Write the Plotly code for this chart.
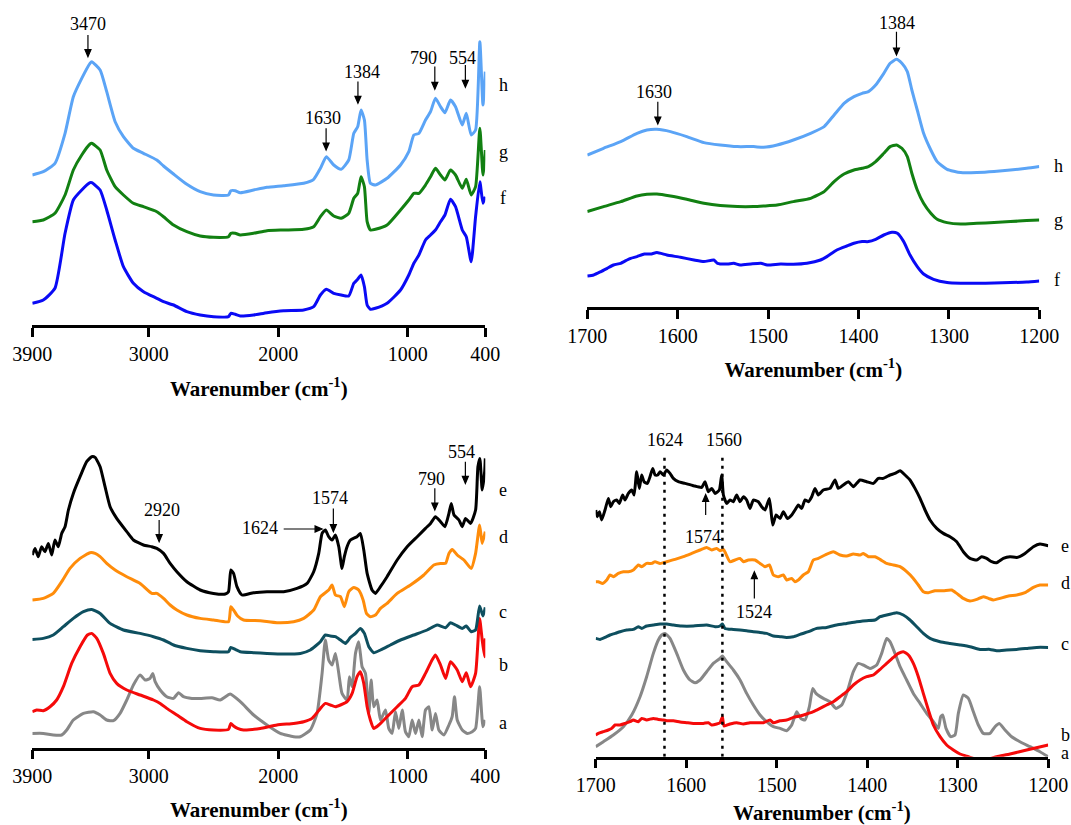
import plotly.graph_objects as go

# ---------------------------------------------------------------- data
# Top-left panel: full range spectra (wavenumber, cm-1) of samples f, g, h
TL_WN = [3900, 3815, 3725, 3647, 3583, 3518, 3454, 3441, 3376, 3325, 3260, 3196, 3119, 3041, 2938,
         2886, 2809, 2706, 2603, 2500, 2384, 2366, 2332, 2293, 2190, 2087, 1958, 1803, 1726, 1674,
         1628, 1571, 1514, 1455, 1416, 1386, 1360, 1334, 1313, 1288, 1249, 1159, 1055, 991, 952,
         913, 862, 823, 785, 746, 712, 669, 630, 578, 547, 509, 475, 442, 418, 400]
TL_H = [150, 153.3, 161.7, 191.7, 228.3, 246.7, 261.7, 263.3, 255, 233.3, 203.3, 188.3, 176.7, 171.7, 165,
        159, 151, 140.7, 133.3, 130, 130, 134.3, 134.3, 132.3, 135, 137.7, 139.3, 141.7, 145.7, 156.7,
        168.3, 160, 155.7, 165, 191.7, 198.3, 215, 205, 165, 141.7, 140, 146.7, 160, 173.3, 190,
        191.7, 205, 213.3, 226.7, 218.3, 212.3, 225, 218.3, 200, 211.7, 190, 195, 283.3, 220, 253.3]
TL_G = [103.3, 105, 111.7, 130, 155, 170, 181, 181.7, 175, 155, 138.3, 130, 121.7, 118.3, 113.3,
        108.3, 100, 93.3, 89, 87.7, 88.3, 91.7, 91.7, 90, 91.7, 94.3, 95, 95.7, 98.3, 108.3,
        115, 109, 106.7, 111.7, 126.7, 131.7, 148.3, 138.3, 103.3, 95, 95.7, 100, 115, 125, 131.7,
        131.7, 140, 148.3, 156.7, 150, 145, 155, 150, 136.7, 145.7, 130, 138.3, 196.7, 150, 175]
TL_F = [21.7, 25, 36.7, 91.7, 125, 135, 142.3, 142.3, 135, 115, 85, 58.3, 41.7, 33.3, 26.7,
        23.3, 20, 13.3, 10, 8.3, 8.3, 11.7, 10.7, 9, 10, 12.3, 14.3, 15, 18.3, 30,
        35.7, 31.7, 30, 29, 41.7, 45.7, 50, 38.3, 20, 15.7, 16.7, 21.7, 35, 50, 61.7,
        70, 85, 90, 95, 103.3, 110, 125.7, 118.3, 95, 88.3, 63.3, 108.3, 143.3, 121.7, 128.3]

# Top-right panel: 1700-1200 cm-1 detail of f, g, h
TR_WN = [1700, 1682, 1663, 1645, 1634, 1623, 1608, 1590, 1571, 1553, 1534, 1516, 1505, 1490, 1472,
         1453, 1438, 1427, 1416, 1405, 1396, 1389, 1381, 1372, 1365, 1358, 1352, 1346, 1341, 1335,
         1328, 1320, 1313, 1302, 1287, 1269, 1250, 1232, 1214, 1200]
TR_H = [152.3, 159, 165.7, 174, 177.3, 178, 175.7, 170.7, 164.7, 162.3, 160.7, 160.7, 160, 162.3, 167.3,
        174, 180.7, 192.3, 204, 210.7, 214, 215.7, 222.3, 234, 244, 248, 244, 235.7, 217.3, 197.3,
        174, 157.3, 145.7, 138, 134.7, 134.7, 135.7, 137.3, 139, 140.7]
TR_G = [95.7, 100.7, 105.7, 111.3, 113, 113.3, 111.3, 108, 104, 101.7, 100.7, 100.7, 101.3, 102.3, 105.7,
        109, 115.7, 125.7, 133.3, 137.3, 139, 140.7, 145.7, 154, 160.7, 162.3, 159, 150.7, 134, 117.3,
        104, 94, 88, 84.7, 83.3, 84, 84.7, 85.7, 86.7, 87.3]
TR_WN_F = [1700, 1693, 1685, 1678, 1671, 1663, 1656, 1652, 1645, 1637, 1630, 1623, 1612, 1597, 1582,
           1571, 1560, 1556, 1545, 1538, 1531, 1519, 1508, 1501, 1486, 1472, 1457, 1442, 1435, 1424,
           1413, 1405, 1396, 1389, 1381, 1372, 1363, 1357, 1350, 1343, 1335, 1328, 1317, 1302, 1287,
           1269, 1250, 1232, 1214, 1200]
TR_F = [31.3, 32.3, 35.7, 39, 42.3, 44, 47.3, 49, 50.7, 53.3, 53.3, 54.7, 52.3, 50, 47.3,
        45.7, 47.3, 44, 43.3, 44, 42.3, 43.3, 44, 42.3, 43.3, 43, 44, 47.3, 50.7, 57.3,
        61.3, 64, 65.7, 65.7, 68, 72.3, 75, 74, 65.7, 52.3, 40.7, 33.3, 28, 24.7, 24,
        24, 24.3, 24.7, 25.3, 26.3]

# Bottom-left panel: full range spectra of samples a-e
BL_WN_E = [3900, 3879, 3854, 3828, 3802, 3776, 3750, 3725, 3699, 3673, 3647, 3621, 3583, 3531, 3480,
           3441, 3415, 3376, 3338, 3299, 3248, 3170, 3119, 3041, 2977, 2938, 2886, 2835, 2783, 2706,
           2603, 2500, 2409, 2384, 2366, 2345, 2319, 2280, 2190, 2087, 1958, 1855, 1777, 1726, 1687,
           1661, 1636, 1610, 1584, 1558, 1532, 1507, 1489, 1468, 1442, 1391, 1365, 1339, 1313, 1275,
           1249, 1210, 1159, 1081, 1004, 926, 862, 823, 785, 746, 712, 681, 663, 642, 604,
           578, 553, 514, 475, 457, 442, 424, 405, 400]
BL_E = [192.7, 199.3, 191, 201, 196, 204.3, 192.7, 207.7, 201, 214.3, 221, 237.7, 254.3, 271, 286,
        291, 290.3, 281, 261, 241, 229.3, 216, 207.7, 202.7, 201, 199.3, 194.3, 184.3, 176, 166,
        157.7, 154.3, 153.7, 156, 177.7, 174.3, 161, 152.7, 155, 156, 156, 159.3, 164.3, 176, 194.3,
        214.3, 217.7, 211, 207.7, 212.7, 201, 179.3, 191, 201, 207.7, 211, 214.3, 197.7, 174.3, 157.7,
        154.3, 161, 171, 187.7, 201, 211, 219.3, 224.3, 231, 226, 221, 234.3, 244.3, 232.7, 227.7,
        221, 229.3, 224.3, 237.7, 281, 289.3, 257.7, 276, 289.3]
BL_WN_D = [3900, 3815, 3738, 3673, 3609, 3531, 3454, 3415, 3376, 3325, 3260, 3170, 3067, 2977, 2938,
           2886, 2835, 2783, 2706, 2603, 2500, 2384, 2366, 2345, 2314, 2268, 2139, 2010, 1881, 1803,
           1726, 1674, 1610, 1584, 1558, 1519, 1489, 1455, 1416, 1378, 1344, 1318, 1288, 1249, 1210,
           1159, 1081, 978, 875, 798, 746, 707, 681, 655, 617, 565, 509, 475, 444, 424, 400]
BL_D = [147.7, 149.3, 154.3, 166, 179.3, 189.3, 195, 194.3, 191, 184.3, 177.7, 171, 164.3, 154.3, 154.3,
        149.3, 142.7, 137.7, 132.7, 129.3, 127.7, 126, 141, 137.7, 131.7, 127.7, 127, 125, 126, 129.3,
        137.7, 151, 157.7, 162.7, 152.7, 151, 141, 156, 160.3, 157.7, 147.7, 134.3, 131, 132.7, 139.3,
        144.3, 154.3, 162.7, 172.7, 182.7, 184.3, 184.3, 194.3, 198.3, 192.7, 187.7, 179.3, 194.3, 222.7, 204.3,
        216]
BL_WN_C = [3900, 3815, 3738, 3660, 3583, 3505, 3441, 3376, 3299, 3196, 3067, 2964, 2886, 2809, 2706,
           2603, 2500, 2384, 2366, 2332, 2293, 2190, 2087, 1958, 1829, 1752, 1674, 1636, 1597, 1558,
           1519, 1481, 1442, 1403, 1365, 1334, 1300, 1262, 1210, 1133, 1055, 952, 849, 772, 707,
           669, 630, 578, 547, 509, 475, 444, 418, 400]
BL_C = [108.3, 109.3, 112.7, 121, 129.3, 136, 138.3, 134.3, 124.3, 117.7, 114.3, 111, 107.7, 102.7, 99.3,
        97, 96, 96, 100.3, 98.3, 96, 95, 94.3, 93.7, 94.3, 97.7, 106, 112.7, 111.7, 111,
        107.7, 104.3, 110.3, 114.3, 119.3, 114.3, 101, 95, 97.7, 102.7, 107.7, 112.7, 117.7, 122.7, 120,
        125, 122.7, 119.3, 121.7, 116, 117.7, 141.7, 131.7, 140.3]
BL_WN_B = [3900, 3866, 3815, 3763, 3712, 3660, 3596, 3531, 3474, 3441, 3402, 3351, 3299, 3248, 3170,
           3067, 2964, 2912, 2861, 2783, 2706, 2603, 2500, 2384, 2366, 2345, 2314, 2268, 2139, 2010,
           1881, 1803, 1739, 1674, 1636, 1597, 1558, 1519, 1468, 1429, 1391, 1365, 1339, 1313, 1288,
           1262, 1223, 1159, 1081, 1017, 965, 913, 862, 811, 785, 746, 707, 669, 617, 578,
           547, 514, 475, 444, 424, 405, 400]
BL_B = [36, 37.7, 37, 41, 47.7, 61, 84.3, 101, 112.7, 114.3, 109.3, 94.3, 74.3, 64.3, 57.7,
        52.7, 47.7, 44.3, 39.3, 32.7, 26, 19.3, 17.7, 18.3, 24.3, 21.7, 19.3, 17.7, 19.3, 22.7,
        24.3, 26, 29.3, 39.3, 44.3, 42.7, 41, 42.7, 46, 54.3, 71, 76, 64.3, 41, 27.7,
        19.3, 22.7, 31, 41, 49.3, 61, 62.7, 74.3, 87.7, 92.7, 82.7, 69.3, 86, 77.7, 66,
        75, 61, 74.3, 129.3, 107.7, 91, 109.3]
BL_WN_A = [3900, 3815, 3738, 3673, 3634, 3583, 3505, 3428, 3376, 3325, 3273, 3222, 3170, 3119, 3067,
           3028, 2990, 2969, 2951, 2912, 2861, 2809, 2770, 2732, 2667, 2603, 2512, 2448, 2371, 2293,
           2190, 2087, 1984, 1881, 1829, 1752, 1700, 1661, 1636, 1610, 1584, 1558, 1532, 1507, 1468,
           1450, 1429, 1403, 1378, 1352, 1326, 1300, 1282, 1262, 1236, 1210, 1171, 1146, 1120, 1094,
           1068, 1042, 1017, 991, 965, 939, 913, 888, 862, 836, 810, 785, 759, 720, 681,
           656, 638, 617, 578, 540, 501, 475, 444, 418, 400]
BL_A = [14.3, 14.3, 12.7, 12.7, 17.7, 27.7, 34.3, 36, 32.7, 27.7, 27, 34.3, 47.7, 62.7, 72.7,
        67.7, 69.3, 74.3, 66, 57.7, 51, 49.3, 55, 51, 49.3, 49.3, 50, 47.7, 53.7, 46,
        32.7, 22.7, 14.3, 11, 11, 17.7, 34.3, 74.3, 107.7, 87.7, 82.7, 94.3, 74.3, 54.3, 47.7,
        71, 61, 94.3, 106, 81, 74.3, 34.3, 67.7, 41, 47.7, 27.7, 37.7, 19.3, 14.3, 36,
        19.3, 37.7, 16, 11, 27.7, 14.3, 27.7, 11, 37.7, 41, 17.7, 34.3, 17.7, 12.7, 22.7,
        31, 51, 27.7, 17.7, 14.3, 16, 19.3, 61, 21, 27.7]

# Bottom-right panel: 1700-1200 cm-1 detail of a-e
BR_WN_E = [1700, 1698.2, 1695.9, 1693.4, 1689.7, 1686.0, 1683.4, 1680.5, 1676.8, 1673.9,
           1670.2, 1667.6, 1663.9, 1660.2, 1657.6, 1654.7, 1651.8, 1649.2, 1646.6, 1642.9,
           1640.0, 1637.0, 1634.4, 1631.5, 1628.9, 1625.2, 1621.6, 1617.9, 1614.2, 1608.7,
           1601.3, 1592.1, 1582.9, 1579.2, 1575.5, 1571.8, 1568.1, 1563.4, 1560.8, 1558.9,
           1555.3, 1551.6, 1547.9, 1544.2, 1540.5, 1536.8, 1533.2, 1529.5, 1525.8, 1520.3,
           1516.6, 1512.9, 1508.1, 1504.4, 1500.7, 1496.3, 1492.6, 1488.2, 1483.4, 1479.8,
           1476.1, 1472.4, 1468.7, 1465.0, 1461.3, 1457.7, 1454.0, 1448.5, 1441.1, 1435.6,
           1431.9, 1426.4, 1420.8, 1415.3, 1407.9, 1400.6, 1393.2, 1387.7, 1382.2, 1374.8,
           1369.3, 1363.7, 1358.2, 1352.7, 1347.2, 1341.6, 1336.1, 1330.6, 1323.2, 1315.9,
           1308.5, 1301.1, 1293.8, 1286.4, 1279.0, 1273.5, 1268.0, 1262.5, 1257.0, 1249.6,
           1242.2, 1234.8, 1225.6, 1216.4, 1209.1, 1200]
BR_E = [246.7, 240, 245, 236.7, 246.7, 258.3, 250, 255, 256.7, 253.3,
        261.7, 256.7, 263.3, 266.7, 261.7, 285, 268.3, 281.7, 275, 273.3,
        280, 288.3, 281.7, 281.7, 285, 281.7, 286.7, 283.3, 278.3, 275,
        273.3, 271, 269.3, 275, 265, 268.3, 263.3, 266.7, 281.7, 261.7,
        253.3, 256.7, 255, 261.7, 255, 260, 256.7, 248.3, 256.7, 255,
        250, 246.7, 258.3, 231.7, 241.7, 238.3, 245, 238.3, 241.7, 246.7,
        251.7, 248.3, 256.7, 255, 260, 268.3, 261.7, 266.7, 268.3, 276.7,
        268.3, 271.7, 275, 270, 276.7, 275, 273.3, 278.3, 278.3, 281.7,
        283.3, 286, 281.7, 276.7, 268.3, 258.3, 246.7, 236.7, 228.3, 223.3,
        220, 215, 205, 198.3, 196.7, 200, 198.3, 195, 194, 198.3,
        200, 199.3, 203.3, 210, 212.7, 211]
BR_WN_D = [1700, 1697.1, 1692.3, 1687.8, 1684.2, 1680.5, 1675.0, 1669.4, 1663.9, 1658.4,
           1652.9, 1649.2, 1643.7, 1638.1, 1634.4, 1628.9, 1621.6, 1612.3, 1603.1, 1593.9,
           1584.7, 1577.4, 1571.8, 1566.3, 1562.6, 1558.9, 1556.4, 1551.6, 1546.1, 1540.5,
           1536.8, 1531.3, 1524.0, 1518.4, 1512.9, 1508.1, 1503.7, 1498.2, 1492.6, 1489.0,
           1483.4, 1479.8, 1476.1, 1470.6, 1465.0, 1459.5, 1454.0, 1446.6, 1437.4, 1430.0,
           1422.7, 1415.3, 1407.9, 1404.3, 1398.7, 1391.4, 1385.8, 1378.5, 1371.1, 1363.7,
           1356.4, 1349.0, 1343.5, 1338.0, 1332.4, 1325.1, 1315.9, 1306.7, 1301.1, 1293.8,
           1286.4, 1279.0, 1271.7, 1266.1, 1260.6, 1253.3, 1244.0, 1234.8, 1225.6, 1216.4,
           1209.1, 1200]
BR_D = [175, 175, 173.3, 176.7, 181.7, 180, 183.3, 185, 185, 186.7,
        191.7, 190, 193.3, 193.3, 195, 193.3, 195, 197.3, 200, 203.3,
        206.7, 209.3, 206.7, 208.3, 206, 207.3, 203.3, 195, 196.7, 198.3,
        195, 196.7, 196.7, 193.3, 190, 191.7, 181.7, 180, 181.7, 176.7,
        178.3, 175, 176.7, 181.7, 185, 196.7, 198.3, 201.7, 205, 201.7,
        200.7, 202.7, 201.7, 203.3, 200, 200, 197.3, 193.3, 191.7, 190,
        185, 178.3, 171.7, 165, 164, 166, 166, 166.7, 163.3, 158.3,
        155.7, 157.3, 160, 158.3, 156.7, 158.3, 160.7, 161.7, 164, 169.3,
        171.7, 171.7]
BR_WN_C = [1700, 1695.2, 1689.7, 1684.2, 1678.6, 1673.1, 1665.7, 1658.4, 1652.9, 1649.2,
           1643.7, 1636.3, 1628.9, 1621.6, 1614.2, 1605.0, 1592.1, 1577.4, 1568.1, 1562.6,
           1560.0, 1557.1, 1547.9, 1540.5, 1533.2, 1525.8, 1518.4, 1511.1, 1503.7, 1496.3,
           1489.0, 1481.6, 1474.2, 1465.0, 1455.8, 1444.8, 1433.7, 1422.7, 1411.6, 1400.6,
           1391.4, 1385.8, 1378.5, 1371.1, 1367.4, 1360.1, 1352.7, 1345.3, 1338.0, 1330.6,
           1319.5, 1308.5, 1297.4, 1286.4, 1275.4, 1264.3, 1256.9, 1245.9, 1234.8, 1223.8,
           1212.7, 1200]
BR_C = [118.3, 117.3, 119.3, 121.7, 123.3, 125, 126.7, 127.3, 130, 128.3,
        130.7, 131.7, 132.7, 132.7, 131.7, 130.7, 130.7, 131.7, 130, 130.7,
        132.7, 128.3, 127.3, 126.7, 126, 125, 124.3, 123.3, 120.7, 120,
        119.3, 120, 122.3, 125, 128.3, 129.3, 131.7, 133.3, 135, 136,
        136.7, 140, 141.7, 143.3, 144, 141.7, 136.7, 130, 123.3, 118.3,
        115, 113.3, 111.7, 110, 107.3, 107.3, 106, 106.7, 107.3, 108.3,
        109.3, 109.3]
BR_WN_B = [1700, 1697.1, 1691.5, 1686.0, 1682.3, 1678.6, 1673.1, 1667.6, 1662.1, 1658.4,
           1652.9, 1649.2, 1643.7, 1636.3, 1630.8, 1625.2, 1621.6, 1614.2, 1606.8, 1599.5,
           1592.1, 1581.0, 1575.5, 1571.8, 1566.3, 1562.6, 1560.0, 1558.2, 1551.6, 1544.2,
           1536.8, 1529.5, 1522.1, 1514.7, 1507.4, 1503.7, 1496.3, 1489.0, 1481.6, 1474.2,
           1466.9, 1459.5, 1452.1, 1444.8, 1437.4, 1430.0, 1422.7, 1415.3, 1407.9, 1400.6,
           1393.2, 1385.8, 1378.5, 1371.1, 1365.6, 1360.1, 1354.5, 1349.0, 1343.5, 1338.0,
           1332.4, 1326.9, 1319.5, 1312.2, 1304.8, 1297.4, 1288.2, 1279.0, 1268.0, 1256.9,
           1242.2, 1223.8, 1200]
BR_B = [21.7, 23.3, 25, 26.7, 28.3, 31.7, 31.7, 33.3, 35, 36.7,
        35, 38.3, 36.7, 38.3, 37.3, 36.7, 36, 36, 34.7, 34,
        33.3, 33.3, 34, 31.7, 32.7, 34, 40, 30.7, 32.7, 34,
        32.7, 34, 34, 34, 36.7, 34, 36, 36.7, 39.3, 40.7,
        42.7, 45, 48.3, 51.7, 55, 60, 65, 71.7, 76.7, 80,
        81.7, 87.3, 93.3, 99.3, 103.3, 105, 101.7, 93.3, 80, 63.3,
        46.7, 31.7, 20, 11.7, 6.7, 2.7, 0, -2.7, -2.7, 0,
        2.7, 6.7, 11.7]
BR_WN_A = [1700, 1691.5, 1680.5, 1669.4, 1660.2, 1651.0, 1643.7, 1636.3, 1630.8, 1627.1,
           1623.4, 1617.9, 1610.5, 1603.1, 1595.8, 1590.2, 1584.7, 1577.4, 1570.0, 1562.6,
           1560.0, 1555.3, 1547.9, 1540.5, 1533.2, 1525.8, 1518.4, 1511.1, 1503.7, 1496.3,
           1489.0, 1483.4, 1477.9, 1473.5, 1468.7, 1463.9, 1460.2, 1456.6, 1448.5, 1441.1,
           1434.5, 1428.2, 1422.7, 1415.3, 1409.8, 1404.3, 1396.9, 1389.5, 1384.0, 1378.5,
           1374.8, 1369.3, 1363.7, 1356.4, 1349.0, 1341.6, 1334.3, 1326.9, 1321.4, 1318.8,
           1316.6, 1312.9, 1307.8, 1303.0, 1299.3, 1293.8, 1288.2, 1282.7, 1277.2, 1271.7,
           1264.3, 1258.8, 1254.0, 1247.7, 1240.4, 1231.2, 1220.1, 1209.1, 1200]
BR_A = [10, 15, 21.7, 30, 41.7, 60, 80, 103.3, 116.7, 121.7,
        123.3, 118.3, 103.3, 86.7, 76.7, 74, 76.7, 85, 93.3, 98.3,
        100.7, 95, 86.7, 76.7, 63.3, 51.7, 41.7, 35, 30, 28.3,
        26, 31.7, 45, 38.3, 36.7, 50, 68.3, 63.3, 58.3, 55,
        48.3, 51.7, 63.3, 85, 93.3, 91.7, 88.3, 91.7, 103.3, 118.3,
        115, 103.3, 90, 76.7, 63.3, 53.3, 43.3, 35, 28.3, 40,
        41.7, 28.3, 20, 21.7, 43.3, 61.7, 58.3, 45, 31.7, 23.3,
        23.3, 30, 33.3, 26.7, 20, 15, 10, 5, 0]

FULL_TICKS = [3900, 3000, 2000, 1000, 400]
ZOOM_TICKS = [1700, 1600, 1500, 1400, 1300, 1200]
BAND_LINES = [1624, 1560]
X_TITLE = "<b>Warenumber (cm<sup>-1</sup>)</b>"

COLORS = {"a": "#878787", "b": "#F50A0A", "c": "#0E4F5F", "d": "#FF8C0A",
          "e": "#000000", "f": "#0A0AF5", "g": "#128012", "h": "#5BA4F6"}

# ---------------------------------------------------------------- layout
W, H = 1071, 825
SERIF = "Liberation Serif, Times New Roman, serif"


def paper(px, py):
    return px / W, 1 - py / H


# pixel frame of each panel: left, right, baseline, top
FRAMES = {
    "1": (32.3, 485.3, 325.0, 25.0),
    "2": (587.3, 1039.3, 307.3, 7.3),
    "3": (32.3, 485.3, 747.7, 447.7),
    "4": (595.7, 1048.2, 756.7, 451.7),
}
RANGES = {"1": [3900, 400], "2": [1700, 1200], "3": [3900, 400], "4": [1700, 1200]}
TICKS = {"1": FULL_TICKS, "2": ZOOM_TICKS, "3": FULL_TICKS, "4": ZOOM_TICKS}
TITLE_GAP = {"1": 18, "2": 17, "3": 16, "4": 12}


def sfx(k):
    return "" if k == "1" else k


fig = go.Figure()

series = [
    ("1", TL_WN, TL_F, "f"), ("1", TL_WN, TL_G, "g"), ("1", TL_WN, TL_H, "h"),
    ("2", TR_WN_F, TR_F, "f"), ("2", TR_WN, TR_G, "g"), ("2", TR_WN, TR_H, "h"),
    ("3", BL_WN_A, BL_A, "a"), ("3", BL_WN_B, BL_B, "b"), ("3", BL_WN_C, BL_C, "c"),
    ("3", BL_WN_D, BL_D, "d"), ("3", BL_WN_E, BL_E, "e"),
    ("4", BR_WN_A, BR_A, "a"), ("4", BR_WN_B, BR_B, "b"), ("4", BR_WN_C, BR_C, "c"),
    ("4", BR_WN_D, BR_D, "d"), ("4", BR_WN_E, BR_E, "e"),
]
for k, xs, ys, name in series:
    fig.add_trace(go.Scatter(
        x=xs, y=ys, mode="lines", name=name, showlegend=False, hoverinfo="skip",
        line=dict(color=COLORS[name], width=3, shape="spline", smoothing=0.5),
        xaxis="x" + sfx(k), yaxis="y" + sfx(k),
    ))

axes = {}
for k, (l, r, base, top) in FRAMES.items():
    s = sfx(k)
    axes["xaxis" + s] = dict(
        domain=[l / W, r / W], range=RANGES[k], anchor="y" + s, automargin=False,
        tickmode="array", tickvals=TICKS[k], ticktext=[str(t) for t in TICKS[k]],
        showline=True, linecolor="black", linewidth=2.5, mirror=False,
        ticks="outside", ticklen=9, tickwidth=2.5, tickcolor="black",
        showgrid=False, zeroline=False,
        tickfont=dict(family=SERIF, size=20, color="black"),
        title=dict(text=X_TITLE, standoff=TITLE_GAP[k],
                   font=dict(family=SERIF, size=21, color="black")),
    )
    axes["yaxis" + s] = dict(
        domain=[1 - base / H, 1 - top / H], range=[0, base - top], anchor="x" + s,
        automargin=False, visible=False, showgrid=False, zeroline=False,
    )

ann = []
# sample letters at the right end of each panel
letters = [
    ("h", 503, 85), ("g", 503, 151.7), ("f", 503, 198.3),
    ("h", 1058.3, 166), ("g", 1058.3, 220), ("f", 1056.7, 280),
    ("e", 503, 490), ("d", 503, 536.7), ("c", 503, 611.7), ("b", 503, 665), ("a", 503, 723.3),
    ("e", 1065, 545.7), ("d", 1065, 583.3), ("c", 1065, 644.3), ("b", 1065, 735), ("a", 1065, 752.5),
]
for t, px, py in letters:
    x, y = paper(px, py)
    ann.append(dict(x=x, y=y, xref="paper", yref="paper", showarrow=False, text=t,
                    xanchor="center", yanchor="middle",
                    font=dict(family=SERIF, size=18, color="black")))

# band labels
band_text = [
    ("3470", 88.3, 24), ("1630", 322.7, 118.3), ("1384", 362.3, 71.7), ("790", 423.3, 58.3), ("554", 462.7, 58.3),
    ("1384", 897.3, 22.7), ("1630", 654, 91.7),
    ("2920", 161.7, 510), ("1574", 330, 498.3), ("1624", 260, 528.3), ("790", 431.7, 479), ("554", 461.7, 451.7),
    ("1624", 665, 440), ("1560", 724.3, 440), ("1574", 703.3, 536.7), ("1524", 754.3, 611.7),
]
for t, px, py in band_text:
    x, y = paper(px, py)
    ann.append(dict(x=x, y=y, xref="paper", yref="paper", showarrow=False, text=t,
                    xanchor="center", yanchor="middle",
                    font=dict(family=SERIF, size=18, color="black")))

# arrows: tip in data units, direction of the tail and shaft length in pixels
arrows = [
    ("1", 3470, 268.3, "up", 21.7), ("1", 1630, 175, "up", 21.7), ("1", 1384, 221.7, "up", 21.7),
    ("1", 790, 235.7, "up", 22.7), ("1", 554, 237.7, "up", 22.3),
    ("2", 1358, 252.3, "up", 23.3), ("2", 1622, 183.3, "up", 22.3),
    ("3", 2920, 206, "up", 21.7), ("3", 1574, 216, "up", 23.3), ("3", 1661, 218.7, "left", 38.4),
    ("3", 790, 237.7, "up", 21.7), ("3", 554, 264.3, "up", 21.7),
    ("4", 1578.5, 262.3, "down", 20.6), ("4", 1524.7, 185, "down", 26.7),
]
HL, HW = 7.0, 3.0  # arrow head length and half width, pixels


def arrow_path(direction, length):
    # pixel path relative to the tip; y grows upwards
    if direction == "up":      # tail above the tip, head points down
        return f"M0,{length} L0,{HL} M{-HW},{HL} L{HW},{HL} L0,0 Z"
    if direction == "down":    # tail below the tip, head points up
        return f"M0,{-length} L0,{-HL} M{-HW},{-HL} L{HW},{-HL} L0,0 Z"
    return f"M{-length},0 L{-HL},0 M{-HL},{-HW} L{-HL},{HW} L0,0 Z"  # tail left, head points right


shapes = []
for k, x, y, direction, length in arrows:
    s = sfx(k)
    shapes.append(dict(type="path", xref="x" + s, yref="y" + s,
                       xsizemode="pixel", ysizemode="pixel", xanchor=x, yanchor=y,
                       path=arrow_path(direction, length),
                       fillcolor="black", line=dict(color="black", width=1.2)))

for wn in BAND_LINES:
    shapes.append(dict(type="line", xref="x4", yref="y4", x0=wn, x1=wn, y0=0, y1=301.7,
                       line=dict(color="black", width=2.5, dash="3px,5px")))

fig.update_layout(
    template="none",
    width=W, height=H, margin=dict(l=0, r=0, t=0, b=0, autoexpand=False),
    paper_bgcolor="white", plot_bgcolor="white",
    annotations=ann, shapes=shapes, showlegend=False,
    **axes,
)

fig.write_html("out.html")
